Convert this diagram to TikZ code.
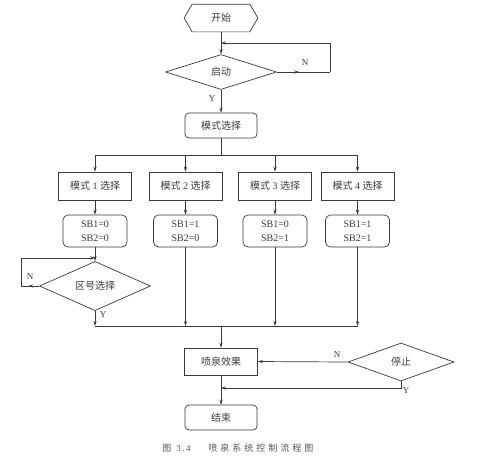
\documentclass[tikz,border=0pt]{standalone}
\usepackage{fontspec}
\setmainfont{Liberation Serif}
\newfontfamily\cjk{Noto Sans CJK SC}
\usetikzlibrary{shapes.geometric,arrows.meta,decorations.markings}
\definecolor{lc}{HTML}{3A3A3A}
\definecolor{capc}{HTML}{555555}
\begin{document}
\begin{tikzpicture}[x=1pt,y=-1pt,line width=0.7pt,color=lc,
  arr/.style={-{Stealth[length=5pt,width=3.2pt]}},
  midarr/.style={postaction={decorate},decoration={markings,mark=at position #1 with {\arrow{Stealth[length=5pt,width=3.2pt]}}}},
  txt/.style={font=\fontsize{10}{14}\selectfont},
  box/.style={txt,draw,minimum width=73pt,minimum height=28pt,inner sep=0pt},
  rbox/.style={txt,draw,rounded corners=4pt,minimum width=72pt,minimum height=25pt,inner sep=0pt},
  sbbox/.style={txt,draw,rounded corners=5pt,minimum width=64pt,minimum height=32pt,inner sep=0pt,align=center},
  dia/.style={txt,draw,diamond,inner sep=0pt,minimum width=111pt,minimum height=35pt},
  lbl/.style={font=\fontsize{9}{10}\selectfont,inner sep=0pt}
]
\useasboundingbox (0,0) rectangle (489,467);

% start hexagon
\node[txt,minimum width=73pt,minimum height=27pt,inner sep=0pt] (start) at (221,18) {\cjk 开始};
\draw (start.west) -- ([xshift=8pt]start.north west) -- ([xshift=-8pt]start.north east)
  -- (start.east) -- ([xshift=-8pt]start.south east) -- ([xshift=8pt]start.south west) -- cycle;

\node[dia] (qd) at (221,72) {\cjk 启动};
\node[rbox] (msel) at (221,125.5) {\cjk 模式选择};

\node[box] (m1) at (95,186) {{\cjk 模式} 1 {\cjk 选择}};
\node[box] (m2) at (185.5,186) {{\cjk 模式} 2 {\cjk 选择}};
\node[box] (m3) at (275,186) {{\cjk 模式} 3 {\cjk 选择}};
\node[box] (m4) at (357.5,186) {{\cjk 模式} 4 {\cjk 选择}};

\node[sbbox] (s1) at (95,231) {SB1=0\\SB2=0};
\node[sbbox] (s2) at (185.5,231) {SB1=1\\SB2=0};
\node[sbbox] (s3) at (275,231) {SB1=0\\SB2=1};
\node[sbbox] (s4) at (357.5,231) {SB1=1\\SB2=1};

\node[dia] (zq) at (95,286) {\cjk 区号选择};

\node[box,minimum height=27pt] (pq) at (221,361.5) {\cjk 喷泉效果};
\node[dia,minimum width=106pt,minimum height=38pt] (stop) at (401,362) {\cjk 停止};
\node[rbox] (end) at (221,417.5) {\cjk 结束};

% coordinates
\coordinate (loopA) at (221,43);
\coordinate (loopB) at (330,72);
\coordinate (loopC) at (330,43);
\coordinate (br) at (221,155);
\coordinate (brL) at (95,155);
\coordinate (brR) at (357.5,155);
\coordinate (zA) at (21,286);
\coordinate (zB) at (21,258);
\coordinate (zC) at (95,258);
\coordinate (mg) at (221,326);
\coordinate (mgL) at (95,326);
\coordinate (mgR) at (357.5,326);
\coordinate (yA) at (401,388);
\coordinate (yB) at (221,388);

% connectors
\draw[arr] (start) -- (qd);
\draw[midarr=0.42] (qd.east) -- (loopB);
\draw[arr] (loopB) -- (loopC) -- (loopA);
\draw[arr] (qd) -- (msel);
\draw (msel) -- (br);
\draw (brL) -- (brR);
\foreach \m in {m1,m2,m3,m4} \draw[arr] (br -| \m) -- (\m);
\foreach \m/\s in {m1/s1,m2/s2,m3/s3,m4/s4} \draw[arr] (\m) -- (\s);
\draw[arr] (s1) -- (zq);
\draw[midarr=0.6] (zq.west) -- (zA);
\draw[arr] (zA) -- (zB) -- (zC);
\draw[arr] (zq) -- (mgL);
\foreach \s in {s2,s3,s4} \draw[arr] (\s) -- (mg -| \s);
\draw (mgL) -- (mgR);
\draw[arr] (mg) -- (pq);
\draw[arr] (stop.west) -- (pq.east);
\draw[arr] (stop.south) -- (yA) -- (yB);
\draw[arr] (pq) -- (end);

% labels
\node[lbl] at (305,63) {N};
\node[lbl] at (212,99) {Y};
\node[lbl] at (30,277) {N};
\node[lbl] at (103,315) {Y};
\node[lbl] at (337,355) {N};
\node[lbl] at (406,391) {Y};

% caption
\node[anchor=west,inner sep=0pt,text=capc,font=\fontsize{9}{10}\selectfont] (cap1) at (162,448)
  {{\cjk 图}\hspace{5pt}3\hspace{1.5pt}.\hspace{1.5pt}4};
\node[anchor=west,inner sep=0pt,text=capc,font=\fontsize{9}{10}\selectfont] (cap2) at (208,448)
  {\cjk 喷\hspace{3pt}泉\hspace{3pt}系\hspace{3pt}统\hspace{3pt}控\hspace{3pt}制\hspace{3pt}流\hspace{3pt}程\hspace{3pt}图};
\end{tikzpicture}
\end{document}
